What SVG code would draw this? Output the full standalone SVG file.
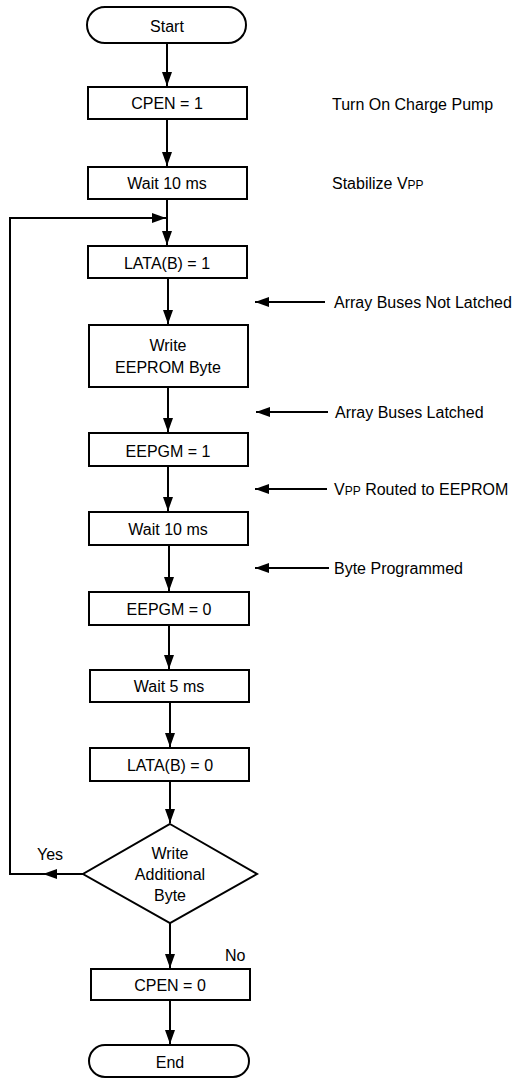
<svg xmlns="http://www.w3.org/2000/svg" width="523" height="1078" viewBox="0 0 523 1078">
<style>
.box{fill:#fff;stroke:#000;stroke-width:2}
.ln{fill:none;stroke:#000;stroke-width:2}
.t{font-family:"Liberation Sans",Arial,sans-serif;font-size:16px;fill:#000;text-anchor:middle;dominant-baseline:central}
.a{font-family:"Liberation Sans",Arial,sans-serif;font-size:16px;fill:#000;dominant-baseline:central}
.sub{font-size:12px}
</style>
<defs>
<marker id="ah" viewBox="0 0 14 10" refX="14" refY="5" markerWidth="14" markerHeight="10" markerUnits="userSpaceOnUse" orient="auto"><path d="M0,0 L14,5 L0,10 z" fill="#000"/></marker>
</defs>
<rect width="523" height="1078" fill="#fff"/>
<g id="connectors">
<path class="ln" d="M167,43 V86" marker-end="url(#ah)"/>
<path class="ln" d="M167,119 V166" marker-end="url(#ah)"/>
<path class="ln" d="M167,199 V245" marker-end="url(#ah)"/>
<path class="ln" d="M168,278 V324" marker-end="url(#ah)"/>
<path class="ln" d="M168,387 V432" marker-end="url(#ah)"/>
<path class="ln" d="M168,466 V511" marker-end="url(#ah)"/>
<path class="ln" d="M169,545 V591" marker-end="url(#ah)"/>
<path class="ln" d="M169,625 V669" marker-end="url(#ah)"/>
<path class="ln" d="M170,702 V747" marker-end="url(#ah)"/>
<path class="ln" d="M170,781 V823" marker-end="url(#ah)"/>
<path class="ln" d="M170,923 V968" marker-end="url(#ah)"/>
<path class="ln" d="M170,1000 V1044" marker-end="url(#ah)"/>
<path class="ln" d="M83,874 H43" marker-end="url(#ah)"/>
<path class="ln" d="M44,874 H10 V218 H166" marker-end="url(#ah)"/>
<path class="ln" d="M325,302 H255" marker-end="url(#ah)"/>
<path class="ln" d="M328,412 H256" marker-end="url(#ah)"/>
<path class="ln" d="M327,489 H255" marker-end="url(#ah)"/>
<path class="ln" d="M329,568 H255" marker-end="url(#ah)"/>
<text class="a" x="37" y="854">Yes</text>
<text class="a" x="225" y="955">No</text>
</g>
<g id="start"><rect class="box" x="87" y="7" width="159" height="36" rx="18"/><text class="t" x="167" y="26">Start</text></g>
<g id="cpen1"><rect class="box" x="88" y="87" width="159" height="32"/><text class="t" x="167" y="103">CPEN = 1</text></g>
<g id="wait1"><rect class="box" x="88" y="167" width="159" height="32"/><text class="t" x="167" y="183">Wait 10 ms</text></g>
<g id="lata1"><rect class="box" x="88" y="246" width="159" height="32"/><text class="t" x="167" y="263">LATA(B) = 1</text></g>
<g id="write"><rect class="box" x="89" y="325" width="159" height="62"/><text class="t" x="168" y="345">Write</text><text class="t" x="168" y="367">EEPROM Byte</text></g>
<g id="eepgm1"><rect class="box" x="89" y="433" width="159" height="33"/><text class="t" x="168" y="451">EEPGM = 1</text></g>
<g id="wait2"><rect class="box" x="89" y="512" width="159" height="33"/><text class="t" x="168" y="529">Wait 10 ms</text></g>
<g id="eepgm0"><rect class="box" x="89" y="592" width="160" height="33"/><text class="t" x="169" y="609">EEPGM = 0</text></g>
<g id="wait3"><rect class="box" x="90" y="670" width="159" height="32"/><text class="t" x="169" y="686">Wait 5 ms</text></g>
<g id="lata0"><rect class="box" x="90" y="748" width="159" height="33"/><text class="t" x="170" y="765">LATA(B) = 0</text></g>
<g id="decision"><path class="box" d="M170,824 L257,874 L170,923 L83,874 Z"/><text class="t" x="170" y="853">Write</text><text class="t" x="170" y="874">Additional</text><text class="t" x="170" y="895">Byte</text></g>
<g id="cpen0"><rect class="box" x="91" y="969" width="159" height="31"/><text class="t" x="170" y="985">CPEN = 0</text></g>
<g id="end"><rect class="box" x="89" y="1045" width="160" height="32" rx="16"/><text class="t" x="170" y="1062">End</text></g>
<g id="notes">
<text class="a" x="332" y="104">Turn On Charge Pump</text>
<text class="a" x="332" y="183">Stabilize V<tspan class="sub" dy="2">PP</tspan></text>
<text class="a" x="334" y="302">Array Buses Not Latched</text>
<text class="a" x="335" y="412">Array Buses Latched</text>
<text class="a" x="334" y="489">V<tspan class="sub" dy="2">PP</tspan><tspan dy="-2"> Routed to EEPROM</tspan></text>
<text class="a" x="334" y="568">Byte Programmed</text>
</g>
</svg>
